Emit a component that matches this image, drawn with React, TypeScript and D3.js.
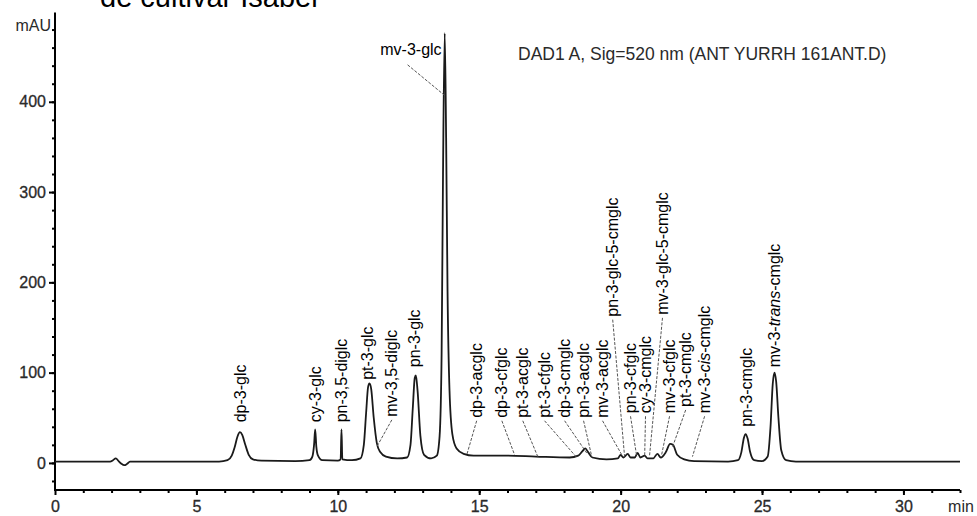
import React, { useEffect, useRef } from 'react';
import * as d3 from 'd3';

const WIDTH = 977;
const HEIGHT = 516;

// DAD trace: retention time (min) and absorbance (mAU)
const traceTime = [
  0, 1.95, 2.05, 2.15, 2.25, 2.35, 2.45, 2.55, 2.65, 5.8, 6.1, 6.25, 6.35, 6.45, 6.54, 6.62, 6.72, 6.85, 7.0, 7.3,
  8.5, 9.0, 9.1, 9.16, 9.2, 9.24, 9.3, 9.45, 10.0, 10.1, 10.13, 10.16, 10.5, 10.8, 10.92, 11.0, 11.07, 11.12, 11.18,
  11.27, 11.38, 11.5, 11.7, 12.1, 12.45, 12.57, 12.65, 12.72, 12.76, 12.82, 12.92, 13.05, 13.3, 13.5, 13.6, 13.67,
  13.72, 13.78, 13.83, 13.88, 13.95, 14.05, 14.2, 14.45, 14.8, 16.0, 17.0, 18.2, 18.5, 18.65, 18.75, 18.85, 19.0,
  19.5, 19.9, 20.0, 20.1, 20.25, 20.35, 20.5, 20.6, 20.7, 20.85, 20.95, 21.15, 21.3, 21.42, 21.6, 21.75, 21.85, 22.0,
  22.25, 22.6, 23.8, 24.15, 24.27, 24.36, 24.42, 24.49, 24.58, 24.72, 25.0, 25.2, 25.3, 25.38, 25.44, 25.5, 25.58,
  25.68, 25.85, 26.2, 32,
];
const traceMAU = [
  1.5, 1.5, 3, 5, 2, -1, -2.5, -1, 1.5, 1.5, 3, 8, 17, 29, 34, 31, 21, 9, 4, 2.5,
  2, 3, 7, 20, 37, 18, 8, 3, 2.5, 4, 37, 4, 3, 5, 20, 55, 84, 88, 82,
  50, 22, 12, 7, 5, 6, 20, 60, 94, 97, 80, 30, 9, 5, 8, 30, 120,
  320, 476, 360, 190, 80, 32, 16, 10, 8, 8, 7, 6, 8, 13, 16, 12, 6,
  4, 5, 9, 6, 10, 6, 6, 11, 6, 8, 5, 5, 10, 6, 12, 21, 20, 9,
  4, 2, 1.5, 3, 12, 28, 32, 27, 12, 3, 2, 7, 40, 88, 100, 90, 50,
  14, 3, 1.5, 1.5,
];

// peak labels: name, where the label sits (min, mAU at its foot), and where its leader ends
const peakNames = [
  'dp-3-glc', 'cy-3-glc', 'pn-3,5-diglc', 'pt-3-glc', 'mv-3,5-diglc', 'pn-3-glc', 'mv-3-glc',
  'dp-3-acglc', 'dp-3-cfglc', 'pt-3-acglc', 'pt-3-cfglc', 'dp-3-cmglc', 'pn-3-acglc', 'mv-3-acglc',
  'pn-3-glc-5-cmglc', 'pn-3-cfglc', 'cy-3-cmglc', 'mv-3-glc-5-cmglc', 'mv-3-cfglc', 'pt-3-cmglc',
  'mv-3-cis-cmglc', 'pn-3-cmglc', 'mv-3-trans-cmglc',
];
const labelTime = [
  6.54, 9.19, 10.14, 11.06, 11.91, 12.72, 13.67,
  14.91, 15.8, 16.54, 17.31, 18.02, 18.69, 19.36,
  19.72, 20.35, 20.88, 21.48, 21.73, 22.3,
  22.97, 24.45, 25.44,
];
const labelMAU = [
  45, 45, 45, 92, 51, 106, 452,
  50, 50, 50, 50, 50, 50, 50,
  162, 55, 55, 164, 55, 62,
  55, 40, 106,
];
const leaderTime = [
  NaN, NaN, NaN, NaN, 11.38, NaN, 13.78,
  14.56, 16.25, 17.07, 18.45, 18.8, 18.98, 20.04,
  20.14, 20.57, 20.85, 21.02, 21.45, 21.84,
  22.54, NaN, NaN,
];
const leaderMAU = [
  NaN, NaN, NaN, NaN, 18, NaN, 407,
  9, 9, 7, 6, 11, 7, 9,
  7, 7, 7, 7, 9, 18,
  7, NaN, NaN,
];
const horizontalLabels = ['mv-3-glc'];

const xMajorTicks = [0, 5, 10, 15, 20, 25, 30];
const yMajorTicks = [0, 100, 200, 300, 400];

const FONT = '"Liberation Sans", Arial, sans-serif';

export default function App() {
  const ref = useRef<SVGSVGElement | null>(null);

  useEffect(() => {
    const svg = d3.select(ref.current);
    svg.selectAll('*').remove();

    const x = d3.scaleLinear().domain([0, 32]).range([55, 960]);
    const y = d3.scaleLinear().domain([-30, 500]).range([490, 11.5]);

    // cut-off caption line at the very top of the scan
    svg.append('text')
      .attr('x', 100).attr('y', 6.5)
      .attr('font-family', FONT).attr('font-size', 29).attr('fill', '#000')
      .text('de cultivar Isabel');

    // y axis: minor ticks every 20, labelled every 100
    const yMinor = svg.append('g')
      .attr('transform', `translate(${x(0)},0)`)
      .call(d3.axisLeft(y).tickValues(d3.range(-20, 500, 20)).tickSize(3).tickFormat(() => ''));
    yMinor.select('.domain').remove();
    const yMajor = svg.append('g')
      .attr('transform', `translate(${x(0)},0)`)
      .call(d3.axisLeft(y).tickValues(yMajorTicks).tickSize(6).tickPadding(3).tickFormat(d3.format('d')));
    yMajor.select('.domain').remove();

    // x axis: minor ticks every minute, labelled every 5
    const xMinor = svg.append('g')
      .attr('transform', `translate(0,${y(-30)})`)
      .call(d3.axisBottom(x).tickValues(d3.range(1, 33, 1)).tickSize(3).tickFormat(() => ''));
    xMinor.select('.domain').remove();
    const xMajor = svg.append('g')
      .attr('transform', `translate(0,${y(-30)})`)
      .call(d3.axisBottom(x).tickValues(xMajorTicks).tickSize(5).tickPadding(6).tickFormat(d3.format('d')));
    xMajor.select('.domain').remove();

    svg.selectAll('.tick line').attr('stroke', '#000').attr('stroke-width', 2);
    svg.selectAll('.tick text')
      .attr('font-family', FONT).attr('font-size', 16).attr('fill', '#2a2a2a')
      .attr('stroke', '#2a2a2a').attr('stroke-width', 0.3);

    svg.append('line')
      .attr('x1', x(0)).attr('x2', x(0)).attr('y1', y(499)).attr('y2', y(-30) + 1)
      .attr('stroke', '#000').attr('stroke-width', 2);
    svg.append('line')
      .attr('x1', x(0) - 1).attr('x2', x(32)).attr('y1', y(-30)).attr('y2', y(-30))
      .attr('stroke', '#000').attr('stroke-width', 2);

    svg.append('text')
      .attr('x', x(0) - 4).attr('y', 31).attr('text-anchor', 'end')
      .attr('font-family', FONT).attr('font-size', 16).attr('fill', '#2a2a2a')
      .text('mAU');
    svg.append('text')
      .attr('x', x(32) + 1).attr('y', 512).attr('text-anchor', 'middle')
      .attr('font-family', FONT).attr('font-size', 16).attr('fill', '#2a2a2a')
      .text('min');

    svg.append('text')
      .attr('x', 518).attr('y', 60)
      .attr('font-family', FONT).attr('font-size', 17.5).attr('fill', '#2a2a2a')
      .text('DAD1 A, Sig=520 nm (ANT YURRH 161ANT.D)');

    // chromatogram
    const line = d3.line<number>()
      .x((i) => x(traceTime[i]))
      .y((i) => y(traceMAU[i]))
      .curve(d3.curveMonotoneX);
    svg.append('path')
      .datum(d3.range(traceTime.length))
      .attr('d', line)
      .attr('fill', 'none')
      .attr('stroke', '#1a1a1a')
      .attr('stroke-width', 1.8)
      .attr('stroke-linejoin', 'round');

    // leader lines from labels down to their peaks
    peakNames.forEach((name, i) => {
      if (Number.isNaN(leaderTime[i])) return;
      const horiz = horizontalLabels.includes(name);
      const x1 = horiz ? x(labelTime[i]) - 34 : x(labelTime[i]);
      const y1 = horiz ? y(labelMAU[i]) + 10 : y(labelMAU[i]) + 3;
      svg.append('line')
        .attr('x1', x1).attr('y1', y1)
        .attr('x2', x(leaderTime[i])).attr('y2', y(leaderMAU[i]))
        .attr('stroke', '#555').attr('stroke-width', 1)
        .attr('stroke-dasharray', '3,1.5');
    });

    // labels (rotated, reading upward)
    peakNames.forEach((name, i) => {
      const horiz = horizontalLabels.includes(name);
      const t = svg.append('text')
        .attr('font-family', FONT).attr('font-size', 16).attr('fill', '#000');
      if (horiz) {
        t.attr('x', x(labelTime[i])).attr('y', y(labelMAU[i])).attr('text-anchor', 'end');
      } else {
        t.attr('transform', `translate(${x(labelTime[i])},${y(labelMAU[i])}) rotate(-90)`)
          .attr('dy', '0.35em');
      }
      name.split(/(trans|cis)/).forEach((part) => {
        if (!part) return;
        t.append('tspan')
          .attr('font-style', part === 'trans' || part === 'cis' ? 'italic' : 'normal')
          .text(part);
      });
    });
  }, []);

  return (
    <svg
      ref={ref}
      width={WIDTH}
      height={HEIGHT}
      style={{ position: 'absolute', left: 0, top: 0, background: '#fff' }}
    />
  );
}
